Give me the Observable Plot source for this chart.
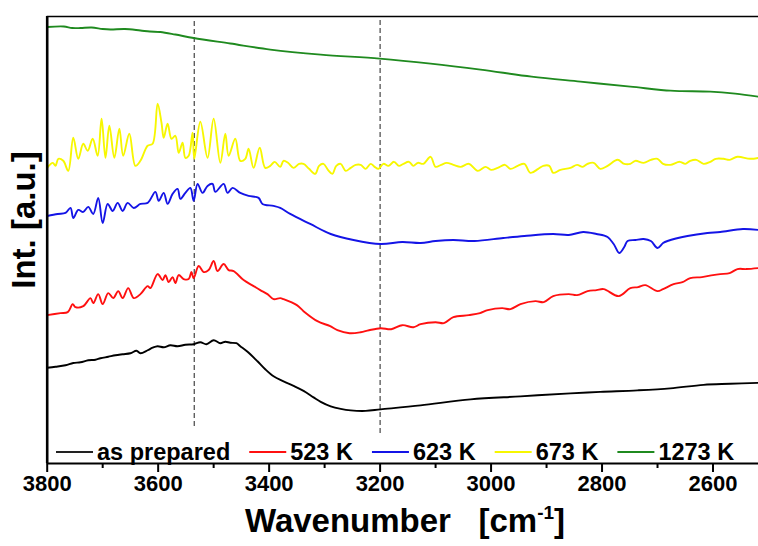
<!DOCTYPE html>
<html><head><meta charset="utf-8">
<script src="https://cdn.jsdelivr.net/npm/d3@7"></script>
<script src="https://cdn.jsdelivr.net/npm/@observablehq/plot@0.6"></script>
<style>body{margin:0;background:#fff} svg{display:block}</style>
</head><body><div id="chart"></div>
<script>
// ---- data (wavenumber in cm^-1, intensity in arbitrary units) ----
const asPreparedW = [3800,3785,3767,3753,3740,3726,3713,3704,3690,3677,3664,3650,3639,3632,3619,3610,3601,3590,3578,3565,3551,3536,3524,3513,3500,3488,3479,3470,3459,3452,3440,3421,3407,3392,3374,3356,3338,3320,3307,3289,3271,3253,3226,3199,3127,3037,2947,2857,2803,2736,2677,2617,2569,2518];
const asPreparedI = [95.5,96.5,98,100.3,101,103,103.5,105,106.5,108,109,110,112.5,110,113,115.5,117,116,118,117,118.5,119,121,119,123,120,121.5,120.5,120,117,112,102,94,87,82,77.5,72.5,66,61.5,57,54.5,53,52.5,54,58,64,67,70,71.5,73,75,78.5,79.5,80.5];

const k523W = [3800,3776,3763,3754,3749,3735,3722,3717,3708,3700,3690,3681,3672,3664,3654,3644,3632,3619,3614,3601,3592,3587,3581,3574,3569,3563,3554,3545,3540,3536,3527,3518,3509,3500,3493,3482,3473,3464,3446,3428,3416,3403,3392,3380,3374,3350,3338,3313,3290,3277,3255,3235,3220,3199,3180,3160,3140,3127,3100,3085,3068,3040,3020,3006,2980,2965,2947,2920,2905,2888,2860,2845,2826,2810,2797,2770,2749,2735,2722,2700,2690,2671,2655,2641,2620,2600,2587,2570,2556,2540,2518];
const k523I = [148,150,151,159,156,157,165,160,169,159,170,165,172,165,175,165,169,177,175,189,183,188,181,186,180,188,184,184,191,185,197,191,193,202,192,199,193,192,183,177,173,169,164,165,164,158,152,142,137,133,130,131,133,135,134,138,136,139,141,140,146,148,150,153,155,154,159,162,161,167,169,168,172,173,174,167,175,176,178,172,174,179,181,185,186,188,189,190,194,194,195];

const k623W = [3800,3781,3767,3758,3753,3744,3735,3726,3717,3708,3700,3691,3682,3673,3664,3655,3644,3632,3619,3605,3599,3590,3583,3574,3565,3560,3551,3542,3536,3529,3520,3511,3502,3497,3482,3475,3466,3452,3437,3419,3412,3392,3380,3362,3326,3289,3248,3199,3160,3127,3100,3068,3030,2978,2940,2888,2860,2834,2810,2790,2779,2769,2760,2754,2740,2725,2712,2700,2690,2682,2646,2610,2587,2546,2518];
const k623I = [247,249,250,255,245,253,251,256,249,265,240,259,252,260,252,260,255,259,260,271,262,270,259,269,274,264,270,275,262,279,270,277,279,271,279,270,275,270,267,265,259,257,255,249,239,229,223,219,221,220,222,223,222,225,227,229,228,231,229,226,219,210,216,222,223,224,222,215,220,222,227,230,231,234,233];

const k673W = [3800,3790,3785,3780,3771,3762,3753,3744,3735,3727,3718,3709,3702,3695,3688,3679,3670,3663,3652,3641,3632,3619,3610,3601,3594,3590,3583,3576,3569,3563,3556,3551,3545,3538,3535,3524,3511,3500,3488,3479,3473,3461,3452,3443,3437,3428,3417,3407,3398,3390,3380,3374,3366,3356,3346,3338,3328,3317,3310,3302,3294,3286,3279,3271,3262,3253,3244,3235,3226,3217,3210,3203,3194,3185,3175,3166,3158,3148,3140,3132,3122,3109,3100,3090,3080,3068,3055,3040,3024,3010,3000,2988,2975,2965,2952,2940,2929,2915,2906,2895,2888,2875,2857,2845,2835,2826,2815,2803,2790,2772,2760,2749,2740,2725,2712,2700,2690,2677,2660,2650,2641,2630,2617,2605,2595,2581,2570,2556,2533,2518];
const k673I = [295,300,297,304,302,292,325,304,319,312,324,307,344,305,337,305,334,307,329,297,302,317,319,359,340,325,339,324,327,310,320,305,307,330,304,341,305,344,300,329,307,324,302,304,314,295,315,295,297,301,296,302,300,295,299,299,294,289,297,299,293,289,297,299,292,295,298,298,294,299,296,294,299,297,301,297,299,301,297,300,299,306,296,298,300,298,296,299,292,296,293,295,298,294,297,299,290,294,297,297,290,293,295,298,296,299,300,294,297,303,299,299,302,300,303,304,299,298,301,299,302,303,299,301,304,304,303,306,304,305];

const k1273W = [3800,3770,3755,3740,3720,3700,3686,3660,3632,3615,3596,3569,3536,3470,3398,3307,3201,3109,3019,2927,2839,2749,2677,2657,2605,2560,2518];
const k1273I = [435.5,436,434.5,434.5,435,433.5,433,433.5,432,431,430.5,428,424.5,419,413,408,404,399,393,386,381,376,372,371.5,371,369,366];

const seriesNames = ["as prepared", "523 K", "623 K", "673 K", "1273 K"];
const seriesColors = ["#000000", "#ff1010", "#1414e6", "#f7f700", "#1f8a1f"];
const seriesW = [asPreparedW, k523W, k623W, k673W, k1273W];
const seriesI = [asPreparedI, k523I, k623I, k673I, k1273I];

const dashX = [3535, 3200];
const dashLow = [37, 30];
const dashHigh = [444, 444];

const majorTicks = [3800, 3600, 3400, 3200, 3000, 2800, 2600];
const minorTicks = [3700, 3500, 3300, 3100, 2900, 2700];
const xDomain = [3800, 2518];
const yDomain = [0, 446];

// ---- build ----
const lineMarks = seriesNames.map((name, s) =>
  Plot.line(seriesW[s].map((w, i) => ({w, v: seriesI[s][i]})),
    {x: "w", y: "v", stroke: seriesColors[s], strokeWidth: 1.9, strokeLinejoin: "round", curve: "catmull-rom"}));

const font = "'Liberation Sans', Arial, Helvetica, sans-serif";

const plot = Plot.plot({
  width: 758, height: 546,
  marginLeft: 46.7, marginRight: 0, marginTop: 16, marginBottom: 83,
  style: {fontFamily: font, background: "#fff", color: "#000", overflow: "visible"},
  x: {domain: xDomain},
  y: {domain: yDomain, axis: null},
  marks: [
    Plot.ruleX(dashX, {x: d => d, y1: (d, i) => dashLow[i], y2: (d, i) => dashHigh[i],
      stroke: "#333", strokeWidth: 1.1, strokeDasharray: "5,3"}),
    ...lineMarks,
    Plot.axisX({ticks: majorTicks, tickSize: 9, tickPadding: 3, tickFormat: d => String(d),
      fontSize: 22, fontWeight: "bold", strokeWidth: 2, label: null}),
    Plot.axisX({ticks: minorTicks, tickSize: 5, tickFormat: () => "", strokeWidth: 2, label: null}),
    Plot.ruleY([yDomain[0]], {strokeWidth: 2.2}),
    Plot.ruleY([yDomain[1]], {strokeWidth: 1.6}),
    Plot.ruleX([xDomain[0]], {strokeWidth: 2.6})
  ]
});
document.getElementById("chart").append(plot);

const svg = d3.select(plot);
// x label
const xl = svg.append("text").attr("x", 405).attr("y", 532).attr("text-anchor", "middle")
  .attr("font-family", font).attr("font-weight", "bold").attr("font-size", 33).attr("fill", "#000");
xl.append("tspan").text("Wavenumber\u00a0\u00a0\u00a0[cm");
xl.append("tspan").attr("font-size", 19).attr("dy", -13).text("-1");
xl.append("tspan").attr("dy", 13).text("]");
// y label
svg.append("text").attr("transform", "translate(35,220) rotate(-90)").attr("text-anchor", "middle")
  .attr("font-family", font).attr("font-weight", "bold").attr("font-size", 33).attr("fill", "#000")
  .text("Int. [a.u.]");
// legend
let lx = 56;
const ly = 452;
seriesNames.forEach((name, s) => {
  svg.append("line").attr("x1", lx).attr("x2", lx + 37).attr("y1", ly).attr("y2", ly)
    .attr("stroke", s === 0 ? "#222" : seriesColors[s]).attr("stroke-width", 2);
  const t = svg.append("text").attr("x", lx + 41).attr("y", ly + 8).attr("text-anchor", "start")
    .attr("font-family", font).attr("font-weight", "bold").attr("font-size", 23.5).attr("fill", "#000")
    .text(name);
  lx += 41 + t.node().getComputedTextLength() + 19;
});
</script></body></html>
